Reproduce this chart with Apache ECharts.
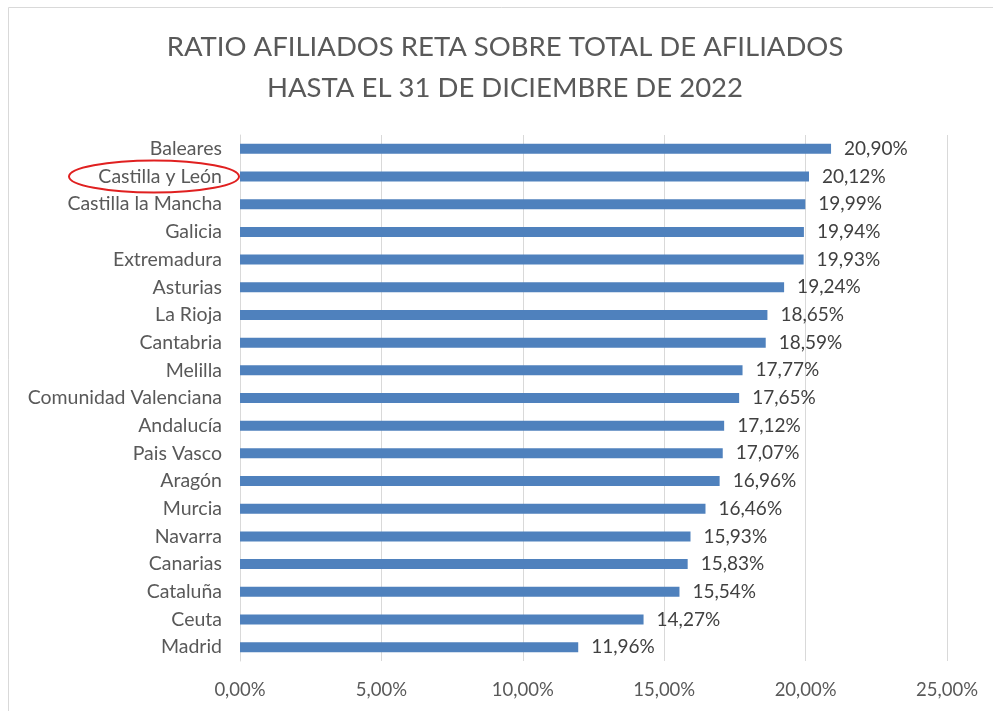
<!DOCTYPE html>
<html><head><meta charset="utf-8">
<script src="https://cdn.jsdelivr.net/npm/echarts@6/dist/echarts.min.js"></script>
<style>html,body{margin:0;padding:0;background:#fff}#c{width:993px;height:711px}</style>
</head><body><div id="c"></div>
<script>
const categories = ["Baleares","Castilla y León","Castilla la Mancha","Galicia","Extremadura","Asturias","La Rioja","Cantabria","Melilla","Comunidad Valenciana","Andalucía","Pais Vasco","Aragón","Murcia","Navarra","Canarias","Cataluña","Ceuta","Madrid"];
const values = [20.90,20.12,19.99,19.94,19.93,19.24,18.65,18.59,17.77,17.65,17.12,17.07,16.96,16.46,15.93,15.83,15.54,14.27,11.96];
const xTicks = [0,5,10,15,20,25];
const titleLines = ["RATIO AFILIADOS RETA SOBRE TOTAL DE AFILIADOS","HASTA EL 31 DE DICIEMBRE DE 2022"];
const highlighted = "Castilla y León";

const fmt = v => v.toFixed(2).replace('.', ',') + '%';
const FONT = 'Lato';
const chart = echarts.init(document.getElementById('c'));
const border = {type:'rect',shape:{x:8.5,y:7.5,width:1000,height:720},style:{fill:null,stroke:'#d9d9d9',lineWidth:1},silent:true};
const titleStyle = {fontFamily:FONT,fontSize:27.5,fontWeight:'normal',color:'#595959'};
chart.setOption({
  animation:false,
  textStyle:{fontFamily:FONT},
  title:titleLines.map((t,i)=>({text:t,left:505,textAlign:'center',top:33+i*41,padding:0,textStyle:titleStyle})),
  grid:{left:240,right:46,top:135,bottom:50,containLabel:false},
  xAxis:{type:'value',min:xTicks[0],max:xTicks[xTicks.length-1],interval:5,
    axisLine:{show:false},axisTick:{show:false},
    splitLine:{lineStyle:{color:'#d9d9d9',width:1}},
    axisLabel:{formatter:v=>fmt(v),fontSize:18.5,color:'#595959',margin:20,fontFamily:FONT}},
  yAxis:{type:'category',data:categories,inverse:true,
    axisLine:{show:true,lineStyle:{color:'#d9d9d9'}},axisTick:{show:false},
    axisLabel:{fontSize:19.5,color:'#595959',margin:18,fontFamily:FONT}},
  series:[{type:'bar',data:values,barWidth:10,
    itemStyle:{color:'#4F81BD'},
    label:{show:true,position:'right',distance:13,formatter:p=>fmt(p.value),fontSize:19,color:'#404040',fontFamily:FONT}}],
  graphic:[border]
});
const idx = categories.indexOf(highlighted);
const py = chart.convertToPixel({yAxisIndex:0}, idx);
chart.setOption({graphic:[
  border,
  {type:'ellipse',shape:{cx:154,cy:py,rx:85,ry:16},style:{fill:null,stroke:'#e02020',lineWidth:2},silent:true}
]});
</script></body></html>
